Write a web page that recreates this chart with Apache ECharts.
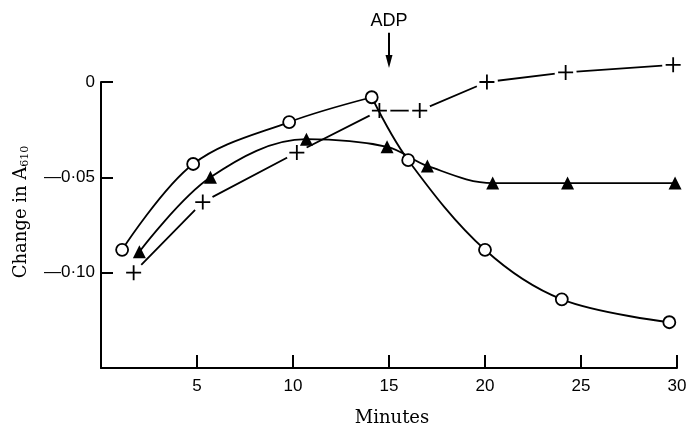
<!DOCTYPE html>
<html>
<head>
<meta charset="utf-8">
<script src="https://cdn.jsdelivr.net/npm/echarts@6/dist/echarts.min.js"></script>
<style>
  html, body { margin: 0; padding: 0; background: #fff; }
  #chart { width: 690px; height: 428px; }
</style>
</head>
<body>
<div id="chart"></div>
<script>
// open circles
var circleX = [1.1, 4.8, 9.8, 14.1, 16.0, 20.0, 24.0, 29.6];
var circleY = [-0.088, -0.043, -0.021, -0.008, -0.041, -0.088, -0.114, -0.126];
// filled triangles
var triangleX = [2.0, 5.7, 10.7, 14.9, 17.0, 20.4, 24.3, 29.9];
var triangleY = [-0.089, -0.050, -0.030, -0.034, -0.044, -0.053, -0.053, -0.053];
// crosses
var crossX = [1.7, 5.3, 10.2, 14.5, 16.6, 20.1, 24.2, 29.8];
var crossY = [-0.100, -0.063, -0.037, -0.015, -0.015, 0.000, 0.005, 0.009];
// y tick labels
var yTickValues = [0, -0.05, -0.10];
var yTickLabels = ['0', '\u20140\u00b705', '\u20140\u00b710'];
// ADP arrow: time, top and tip of the arrow (in y units)
var adpTime = 15;
var adpTop = 0.0258;
var adpTip = 0.0074;

function pairs(xs, ys) {
  return xs.map(function (x, i) { return [x, ys[i]]; });
}

var plusPath = 'path://M4.4,0 H5.6 V4.4 H10 V5.6 H5.6 V10 H4.4 V5.6 H0 V4.4 H4.4 Z';
var circlePts = pairs(circleX, circleY);
var crossPts = pairs(crossX, crossY);
var lineStyle = { color: '#000', width: 1.8 };

var myChart = echarts.init(document.getElementById('chart'));

var option = {
  backgroundColor: '#fff',
  animation: false,
  grid: { left: 101, right: 13, top: 82, bottom: 60, containLabel: false, outerBoundsMode: 'none' },
  xAxis: {
    type: 'value',
    min: 0,
    max: 30,
    interval: 5,
    name: 'Minutes',
    nameLocation: 'middle',
    nameGap: 41,
    nameTextStyle: { fontFamily: 'DejaVu Serif', fontSize: 18, color: '#000', padding: [0, 0, 0, 6] },
    axisLine: { onZero: false, lineStyle: { color: '#000', width: 2 } },
    axisTick: { inside: true, length: 13, lineStyle: { color: '#000', width: 2 } },
    axisLabel: {
      color: '#000', fontFamily: 'Liberation Sans', fontSize: 17, margin: 10,
      formatter: function (v) { return v === 0 ? '' : String(v); }
    },
    splitLine: { show: false }
  },
  yAxis: {
    type: 'value',
    min: -0.15,
    max: 0,
    interval: 0.05,
    name: 'Change in A{s|610}',
    nameLocation: 'middle',
    nameGap: 70,
    nameTextStyle: {
      fontFamily: 'DejaVu Serif', fontSize: 18, color: '#000', padding: [0, 0, 0, 26],
      rich: { s: { fontFamily: 'DejaVu Serif', fontSize: 11, color: '#000', verticalAlign: 'bottom', padding: [9, 0, 0, 0] } }
    },
    axisLine: { onZero: false, lineStyle: { color: '#000', width: 2 } },
    axisTick: { inside: true, length: 12, lineStyle: { color: '#000', width: 2 } },
    axisLabel: {
      color: '#000', fontFamily: 'Liberation Sans', fontSize: 17, margin: 6,
      formatter: function (v) {
        for (var i = 0; i < yTickValues.length; i++) {
          if (Math.abs(v - yTickValues[i]) < 1e-6) return yTickLabels[i];
        }
        return '';
      }
    },
    splitLine: { show: false }
  },
  series: [
    {
      // cross line, broken near the markers by the white discs above it
      type: 'line',
      data: crossPts,
      symbol: 'none',
      clip: false,
      z: 1,
      lineStyle: lineStyle
    },
    {
      type: 'scatter',
      data: crossPts,
      symbol: 'circle',
      symbolSize: 22,
      clip: false,
      silent: true,
      z: 2,
      itemStyle: { color: '#fff', opacity: 1 }
    },
    {
      // circles before ADP
      type: 'line',
      data: circlePts.slice(0, 4),
      smooth: 0.35,
      symbol: 'none',
      clip: false,
      z: 4,
      lineStyle: lineStyle
    },
    {
      // circles after ADP
      type: 'line',
      data: circlePts.slice(3),
      smooth: 0.35,
      symbol: 'none',
      clip: false,
      z: 4,
      lineStyle: lineStyle
    },
    {
      type: 'scatter',
      data: circlePts,
      symbol: 'circle',
      symbolSize: 12,
      clip: false,
      z: 5,
      itemStyle: { color: '#fff', borderColor: '#000', borderWidth: 1.8, opacity: 1 }
    },
    {
      type: 'line',
      data: pairs(triangleX, triangleY),
      smooth: 0.35,
      symbol: 'triangle',
      symbolSize: 13,
      showAllSymbol: true,
      clip: false,
      z: 4,
      lineStyle: lineStyle,
      itemStyle: { color: '#000' }
    },
    {
      type: 'scatter',
      data: crossPts,
      symbol: plusPath,
      symbolSize: 15,
      clip: false,
      z: 5,
      itemStyle: { color: '#000', opacity: 1 }
    }
  ]
};

myChart.setOption(option);

// ADP arrow, placed through the chart's own scales
var arrowTop = myChart.convertToPixel({ gridIndex: 0 }, [adpTime, adpTop]);
var arrowTip = myChart.convertToPixel({ gridIndex: 0 }, [adpTime, adpTip]);
myChart.setOption({
  graphic: [
    {
      type: 'line',
      shape: { x1: arrowTop[0], y1: arrowTop[1], x2: arrowTip[0], y2: arrowTip[1] - 8 },
      style: { stroke: '#000', lineWidth: 2 }
    },
    {
      type: 'polygon',
      shape: { points: [[arrowTip[0] - 3.5, arrowTip[1] - 13], [arrowTip[0] + 3.5, arrowTip[1] - 13], [arrowTip[0], arrowTip[1]]] },
      style: { fill: '#000' }
    },
    {
      type: 'text',
      x: arrowTop[0],
      y: arrowTop[1] - 3,
      style: {
        text: 'ADP', fill: '#000', font: '18px "Liberation Sans"',
        textAlign: 'center', textVerticalAlign: 'bottom'
      }
    }
  ]
});
</script>
</body>
</html>
